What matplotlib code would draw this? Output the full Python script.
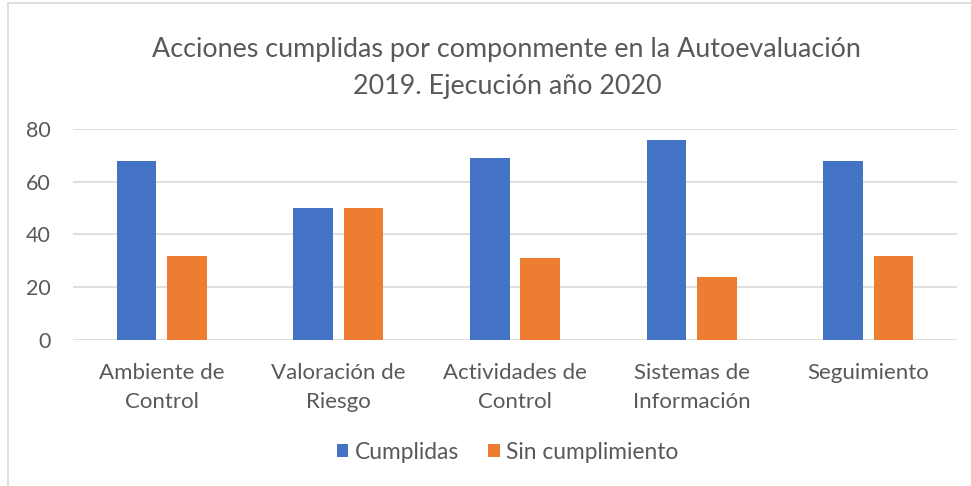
import matplotlib
matplotlib.use("Agg")
import matplotlib.pyplot as plt
import numpy as np
from matplotlib.patches import Rectangle

categorias = ["Ambiente de\nControl", "Valoración de\nRiesgo", "Actividades de\nControl",
              "Sistemas de\nInformación", "Seguimiento"]
cumplidas = [68, 50, 69, 76, 68]
sin_cumplimiento = [32, 50, 31, 24, 32]

plt.rcParams['font.family'] = ['Lato', 'DejaVu Sans']
gris = '#595959'

fig = plt.figure(figsize=(9.71, 4.86), dpi=100)
ax = fig.add_axes([0.0755, 0.301, 0.9098, 0.433])

x = np.arange(len(categorias))
ancho = 0.225
ax.bar(x - 0.142, cumplidas, ancho, color='#4472C4', label='Cumplidas', zorder=3)
ax.bar(x + 0.142, sin_cumplimiento, ancho, color='#ED7D31', label='Sin cumplimiento', zorder=3)

ax.set_xlim(-0.5, len(categorias) - 0.5)
ax.set_ylim(0, 80)
ax.set_yticks([0, 20, 40, 60, 80])
ax.set_xticks(x)
ax.set_xticklabels(categorias, linespacing=1.55)
ax.tick_params(axis='both', length=0, colors=gris)
ax.tick_params(axis='y', pad=16, labelsize=15.5)
ax.tick_params(axis='x', pad=17, labelsize=16)
ax.grid(axis='y', color='#d9d9d9', linewidth=1.2, zorder=0)
for s in ax.spines.values():
    s.set_visible(False)

fig.text(0.522, 1 - 68 / 486, "Acciones cumplidas por componmente en la Autoevaluación\n2019. Ejecución año 2020",
         ha='center', va='center', fontsize=19.4, color=gris, linespacing=1.6)

fig.legend(loc='center', bbox_to_anchor=(0.523, 1 - 452 / 486), ncol=2, frameon=False,
           fontsize=16.4, labelcolor=gris, handlelength=0.5, handleheight=0.5,
           handletextpad=0.3, columnspacing=1.27)

# borde del gráfico
fig.patches.append(Rectangle((8 / 971, -0.1), 1.1, 1 - 3 / 486 + 0.1, transform=fig.transFigure,
                             fill=False, edgecolor='#d9d9d9', linewidth=1.2))

fig.savefig("out.png", dpi=100)
